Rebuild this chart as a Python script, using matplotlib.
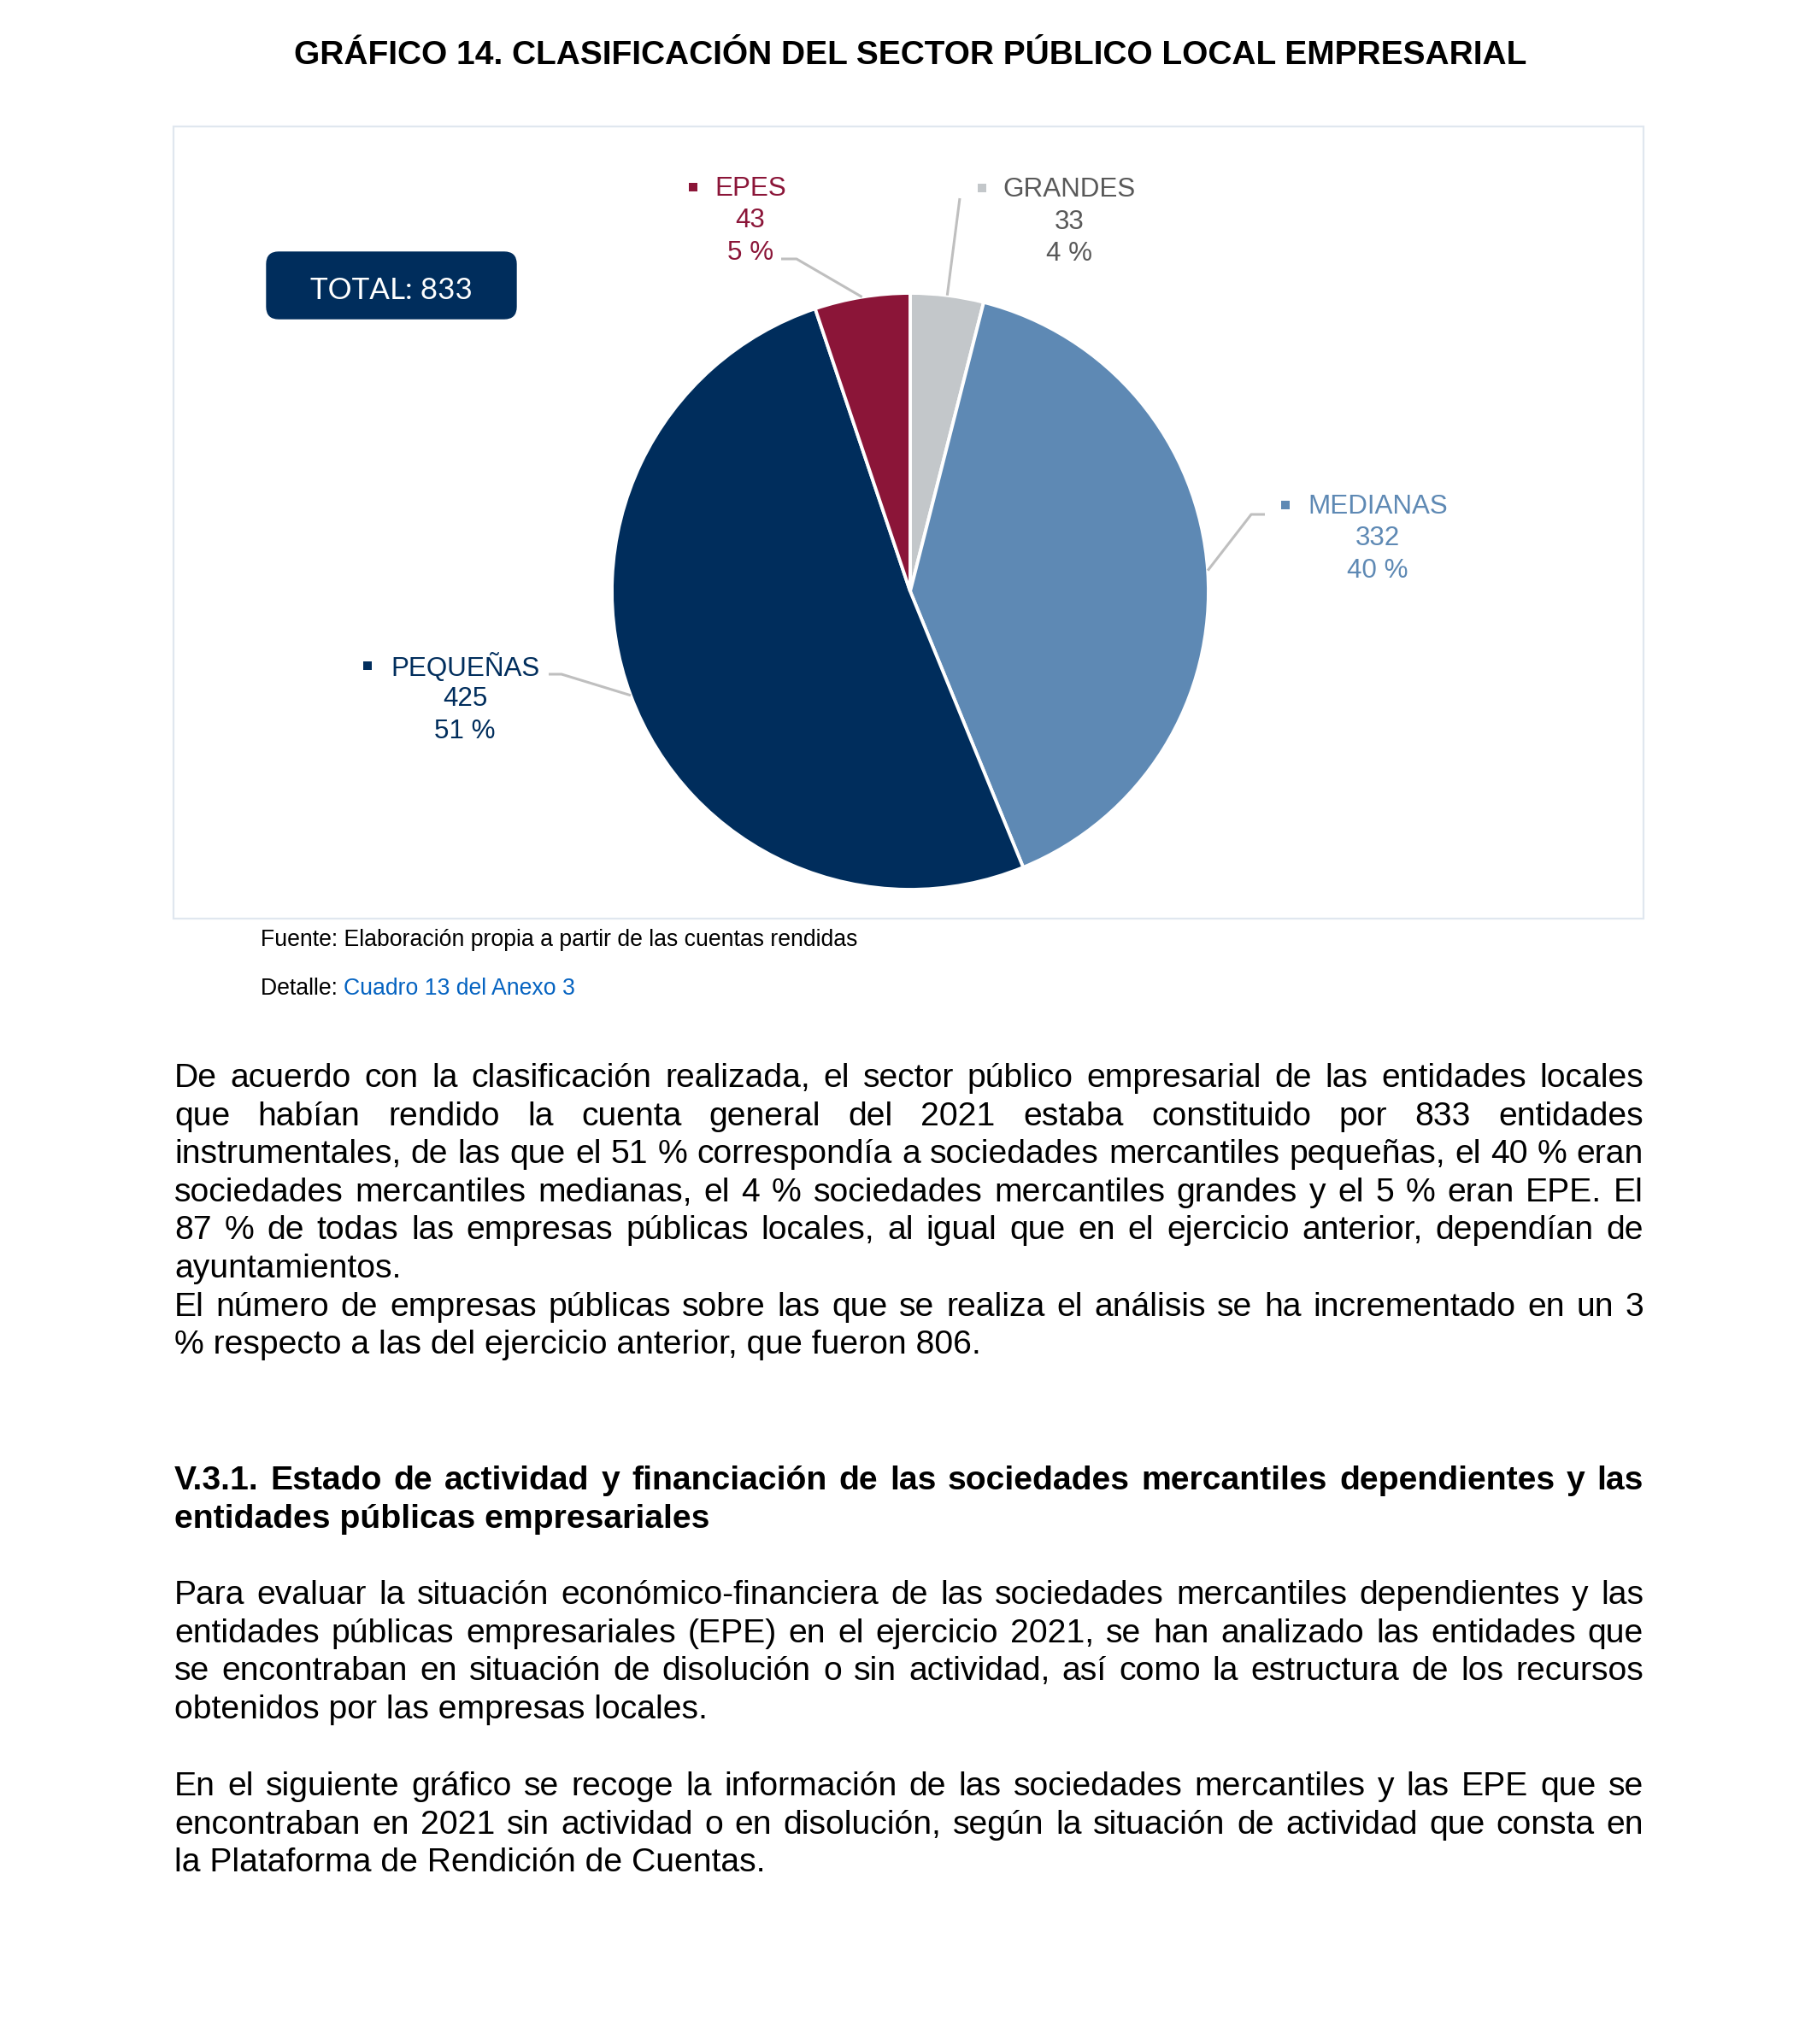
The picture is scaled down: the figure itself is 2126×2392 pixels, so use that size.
import matplotlib
matplotlib.use('Agg')
import matplotlib.pyplot as plt
from matplotlib.patches import FancyBboxPatch, Rectangle
from matplotlib import font_manager
import numpy as np

# ---------------- data ----------------
categories = ['GRANDES', 'MEDIANAS', 'PEQUEÑAS', 'EPES']
counts = [33, 332, 425, 43]
percent_labels = ['4 %', '40 %', '51 %', '5 %']
total_label = 'TOTAL: 833'
slice_colors = ['#C3C7CA', '#5E89B4', '#002D5C', '#8B1538']
label_colors = ['#595959', '#5E89B4', '#002D5C', '#8B1538']

title = 'GRÁFICO 14. CLASIFICACIÓN DEL SECTOR PÚBLICO LOCAL EMPRESARIAL'
source_text = 'Fuente: Elaboración propia a partir de las cuentas rendidas'
detail_prefix = 'Detalle: '
detail_link = 'Cuadro 13 del Anexo 3'

para1 = ['De acuerdo con la clasificación realizada, el sector público empresarial de las entidades locales',
         'que habían rendido la cuenta general del 2021 estaba constituido por 833 entidades',
         'instrumentales, de las que el 51 % correspondía a sociedades mercantiles pequeñas, el 40 % eran',
         'sociedades mercantiles medianas, el 4 % sociedades mercantiles grandes y el 5 % eran EPE. El',
         '87 % de todas las empresas públicas locales, al igual que en el ejercicio anterior, dependían de',
         'ayuntamientos.']
para2 = ['El número de empresas públicas sobre las que se realiza el análisis se ha incrementado en un 3',
         '% respecto a las del ejercicio anterior, que fueron 806.']
heading = ['V.3.1. Estado de actividad y financiación de las sociedades mercantiles dependientes y las',
           'entidades públicas empresariales']
para3 = ['Para evaluar la situación económico-financiera de las sociedades mercantiles dependientes y las',
         'entidades públicas empresariales (EPE) en el ejercicio 2021, se han analizado las entidades que',
         'se encontraban en situación de disolución o sin actividad, así como la estructura de los recursos',
         'obtenidos por las empresas locales.']
para4 = ['En el siguiente gráfico se recoge la información de las sociedades mercantiles y las EPE que se',
         'encontraban en 2021 sin actividad o en disolución, según la situación de actividad que consta en',
         'la Plataforma de Rendición de Cuentas.']

# ---------------- layout ----------------
W, H = 2126, 2392
DPI = 200


def has_font(name):
    try:
        font_manager.findfont(font_manager.FontProperties(family=name), fallback_to_default=False)
        return True
    except Exception:
        return False


SANS = 'Liberation Sans'
NARROW_OK = has_font('Liberation Sans Narrow')
NARROW = 'Liberation Sans Narrow' if NARROW_OK else 'Liberation Sans'
NARROW_SIZE = 11.5 if NARROW_OK else 9.6
BOX_FONT = 'Lato' if has_font('Lato') else 'DejaVu Sans'

fig = plt.figure(figsize=(W / DPI, H / DPI), dpi=DPI)
ax = fig.add_axes([0, 0, 1, 1])


def Y(y):
    return H - y


# chart frame
ax.add_patch(Rectangle((203, Y(1075)), 1923 - 203, 1075 - 148, facecolor='white',
                       edgecolor='#E0E7EF', linewidth=0.8, zorder=0))

# pie
cx, cy, R = 1065, 692, 349
wedges, _ = ax.pie(counts, colors=slice_colors, startangle=90, counterclock=False,
                   center=(cx, Y(cy)), radius=R,
                   wedgeprops=dict(edgecolor='white', linewidth=1.4))
ax.set_xlim(0, W)
ax.set_ylim(0, H)
ax.set_aspect('auto')
ax.axis('off')

# leader start points (layout)
leader_starts = {
    'GRANDES': [(1123, 232)],
    'MEDIANAS': [(1480, 602), (1464, 602)],
    'PEQUEÑAS': [(642, 789), (657, 789)],
    'EPES': [(914, 303), (932, 303)],
}
# label layout: word centre x, first-line centre y, marker centre x
label_pos = {
    'GRANDES': (1251, 222, 1149),
    'MEDIANAS': (1612, 593, 1504),
    'PEQUEÑAS': (544, 781, 430),
    'EPES': (878, 221, 811),
}
LABEL_SIZE = 11.3
LINE_STEP = 37.5
for w, cat, n, pct, col, scol in zip(wedges, categories, counts, percent_labels,
                                      label_colors, slice_colors):
    mid = np.deg2rad((w.theta1 + w.theta2) / 2)
    ex = w.center[0] + w.r * np.cos(mid)
    ey = w.center[1] + w.r * np.sin(mid)
    pts = [(x, Y(y)) for x, y in leader_starts[cat]] + [(ex, ey)]
    xs, ys = zip(*pts)
    ax.plot(xs, ys, color='#BFBFBF', lw=1.1, solid_capstyle='butt', zorder=3)
    lx, ly, mx = label_pos[cat]
    for i, s in enumerate([cat, str(n), pct]):
        ax.text(lx, Y(ly + i * LINE_STEP), s, ha='center', va='center', fontsize=LABEL_SIZE,
                family=SANS, color=col)
    ax.add_patch(Rectangle((mx - 5, Y(ly - 2) - 5), 10, 10, facecolor=scol, edgecolor='none'))

# total box
ax.add_patch(FancyBboxPatch((312, Y(373)), 604 - 312, 373 - 295,
                            boxstyle='round,pad=0,rounding_size=14',
                            facecolor='#002D5C', edgecolor='#002D5C', lw=0.5, zorder=3))
ax.text((312 + 604) / 2, Y(340), total_label, ha='center', va='center', fontsize=12.6,
        family=BOX_FONT, color='white', zorder=4)

# title
ax.text(1065, Y(65), title, ha='center', va='center', fontsize=14, family=SANS,
        weight='bold', color='black')

# source
renderer = fig.canvas.get_renderer()


def text_width(s, **kw):
    t = ax.text(0, 0, s, **kw)
    wdt = t.get_window_extent(renderer).width
    t.remove()
    return wdt


ax.text(305, Y(1107), source_text, ha='left', va='baseline', fontsize=NARROW_SIZE,
        family=NARROW, color='black')
ax.text(305, Y(1164), detail_prefix, ha='left', va='baseline', fontsize=NARROW_SIZE,
        family=NARROW, color='black')
pw = text_width(detail_prefix, fontsize=NARROW_SIZE, family=NARROW)
ax.text(305 + pw, Y(1164), detail_link, ha='left', va='baseline', fontsize=NARROW_SIZE,
        family=NARROW, color='#0563C1')

# body text (justified)
X0, X1 = 204, 1923
BODY = 14.1
STEP = 44.6


def justified_block(lines, y_first, weight='normal'):
    kw = dict(fontsize=BODY, family=SANS, weight=weight)
    for i, line in enumerate(lines):
        yb = Y(y_first + i * STEP)
        last = (i == len(lines) - 1)
        if last:
            ax.text(X0, yb, line, ha='left', va='baseline', color='black', **kw)
            continue
        words = line.split(' ')
        widths = [text_width(wd, **kw) for wd in words]
        gap = (X1 - X0 - sum(widths)) / (len(words) - 1)
        x = X0
        for wd, wdt in zip(words, widths):
            ax.text(x, yb, wd, ha='left', va='baseline', color='black', **kw)
            x += wdt + gap


justified_block(para1, 1272)
justified_block(para2, 1272 + 6 * STEP)
justified_block(heading, 1743, weight='bold')
justified_block(para3, 1877)
justified_block(para4, 2101)

fig.savefig('out.png', dpi=DPI, facecolor='white')
